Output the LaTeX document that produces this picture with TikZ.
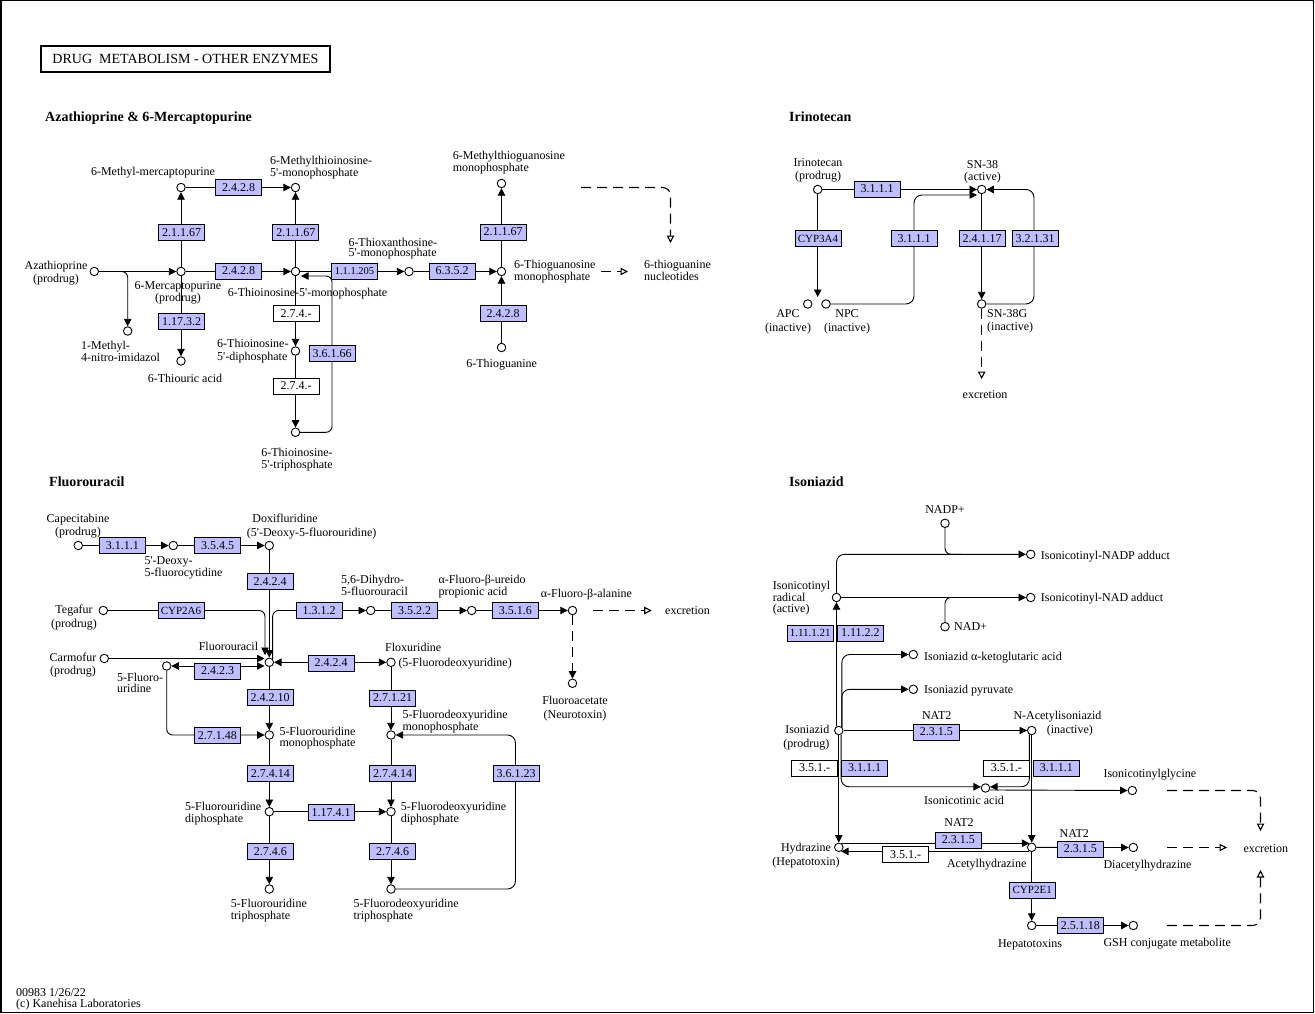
\documentclass[tikz,border=0pt]{standalone}
\usepackage{fontspec}
\setmainfont{Liberation Serif}
\newfontfamily\kf{Liberation Serif}
\usetikzlibrary{arrows.meta}
\definecolor{enzblue}{HTML}{BFBFFF}
\begin{document}
\begin{tikzpicture}[x=1pt,y=-1pt,
  cpd/.style={circle,draw,line width=0.9pt,fill=white,inner sep=0pt,minimum size=8.5pt},
  enz/.style={draw,line width=0.8pt,fill=enzblue,minimum width=46pt,minimum height=16pt,inner sep=0pt,font=\kf\fontsize{12}{12}\selectfont},
  wenz/.style={enz,fill=white},
  lc/.style={inner sep=0pt,anchor=base,align=center,font=\kf\fontsize{12}{#1}\selectfont},
  lc/.default=12,
  ll/.style={inner sep=0pt,anchor=base west,align=left,font=\kf\fontsize{12}{#1}\selectfont},
  ll/.default=12,
  lr/.style={inner sep=0pt,anchor=base east,align=right,font=\kf\fontsize{12}{#1}\selectfont},
  lr/.default=12,
  hd/.style={inner sep=0pt,anchor=base west,font=\kf\fontsize{14}{14}\selectfont\bfseries},
  ln/.style={line width=0.9pt},
  arr/.style={ln,-{Triangle[length=7.5pt,width=7.5pt]}},
  arrb/.style={ln,{Triangle[length=7.5pt,width=7.5pt]}-{Triangle[length=7.5pt,width=7.5pt]}},
  darr/.style={line width=1.1pt,dash pattern=on 10pt off 6pt,-{Triangle[open,length=7.5pt,width=7.5pt]}},
  dfarr/.style={line width=1.1pt,dash pattern=on 10pt off 6pt,-{Triangle[length=7.5pt,width=7.5pt]}},
  rc/.style={rounded corners=6pt},
]
\useasboundingbox (0,0) rectangle (1315,1014);
\draw[line width=1.5pt] (0.75,0.75) rectangle (1313.5,1012.5);

% ---------- title and headings ----------
\node[draw,line width=1.8pt,minimum width=289pt,minimum height=26pt,inner sep=0pt,font=\kf\fontsize{14}{14}\selectfont] (title) at (185.5,59) {DRUG\ \ METABOLISM - OTHER ENZYMES};
\node[hd] (h1) at (45,121.5) {Azathioprine \& 6-Mercaptopurine};
\node[hd] (h2) at (789,121.5) {Irinotecan};
\node[hd] (h3) at (49,486.5) {Fluorouracil};
\node[hd] (h4) at (789,486.5) {Isoniazid};
\node[ll=11] (foot) at (16,1007.5) {00983 1/26/22\\(c) Kanehisa Laboratories};

% ---------- compounds ----------
\node[cpd] (aza) at (94.3,271.5) {};
\node[cpd] (mp) at (181,271.5) {};
\node[cpd] (mmp) at (181,187.5) {};
\node[cpd] (mtimp) at (295.5,187.5) {};
\node[cpd] (timp) at (295.5,271.5) {};
\node[cpd] (txmp) at (409,271.5) {};
\node[cpd] (tgmp) at (501.5,271.5) {};
\node[cpd] (mtgmp) at (501.5,183.5) {};
\node[cpd] (tg) at (501.5,347.5) {};
\node[cpd] (mni) at (127.7,331) {};
\node[cpd] (tua) at (181,361) {};
\node[cpd] (tidp) at (295.5,351) {};
\node[cpd] (titp) at (295.5,432.3) {};
\node[cpd] (irino) at (817.7,189.5) {};
\node[cpd] (sn38) at (981.7,189.5) {};
\node[cpd] (apc) at (807.7,304) {};
\node[cpd] (npc) at (826,304) {};
\node[cpd] (sn38g) at (981.7,304) {};
\node[cpd] (cap) at (78.3,545.5) {};
\node[cpd] (dfcr) at (173.3,545.5) {};
\node[cpd] (dfur) at (269.3,545.5) {};
\node[cpd] (teg) at (103.3,610.5) {};
\node[cpd] (fu) at (269.3,662.3) {};
\node[cpd] (dhfu) at (370.7,610.5) {};
\node[cpd] (fupa) at (471.7,610.5) {};
\node[cpd] (fbal) at (572.5,610.5) {};
\node[cpd] (fac) at (572.5,683.3) {};
\node[cpd] (carm) at (104.3,658.5) {};
\node[cpd] (fur) at (166.7,666) {};
\node[cpd] (flox) at (391,662.3) {};
\node[cpd] (fump) at (269.3,735) {};
\node[cpd] (fdump) at (391,735) {};
\node[cpd] (fudp) at (269.3,811.7) {};
\node[cpd] (fdudp) at (391,811.7) {};
\node[cpd] (futp) at (269.3,889) {};
\node[cpd] (fdutp) at (391,889) {};
\node[cpd] (nadp) at (945,523.3) {};
\node[cpd] (nadpa) at (1030.7,554.3) {};
\node[cpd] (rad) at (836.5,597.5) {};
\node[cpd] (nada) at (1030.7,597.5) {};
\node[cpd] (nad) at (945,626.7) {};
\node[cpd] (akg) at (913.3,654.5) {};
\node[cpd] (pyr) at (913.3,689.3) {};
\node[cpd] (inh) at (838.8,730.5) {};
\node[cpd] (nai) at (1031.7,730.5) {};
\node[cpd] (ina) at (985.5,788) {};
\node[cpd] (icg) at (1132.3,790.5) {};
\node[cpd] (hyd) at (838.8,847.3) {};
\node[cpd] (ach) at (1031.7,847.3) {};
\node[cpd] (dah) at (1133.3,847.5) {};
\node[cpd] (htx) at (1031.7,925.5) {};
\node[cpd] (gsh) at (1133.3,925.5) {};

% ---------- free ends ----------
\coordinate (timpin) at (301,276);
\coordinate (apcnpc) at (817.7,297);
\coordinate (sn38in) at (977,195);
\coordinate (fuT1) at (265,655);
\coordinate (fuL1) at (264.5,658.5);
\coordinate (fuL2) at (264.5,666);
\coordinate (nadpj) at (962,554.3);
\coordinate (nadj) at (962,597.5);
\coordinate (x0s) at (581,187.5);
\coordinate (x0e) at (670.5,243);
\coordinate (x1s) at (601,271.5);
\coordinate (x1e) at (628,271.5);
\coordinate (x2s) at (593.3,610.5);
\coordinate (x2e) at (651.7,610.5);
\coordinate (x3) at (981.7,379);
\coordinate (x4s) at (1167,790.5);
\coordinate (x4e) at (1260.5,831);
\coordinate (x5s) at (1167,847.5);
\coordinate (x5e) at (1227,847.5);
\coordinate (x6s) at (1167,925.5);
\coordinate (x6e) at (1260.5,870);

% ---------- connectors ----------
\draw[arr] (aza) -- (mp);
\draw[arr,rc] (aza) -| (mni);
\draw[arr] (mp) -- (mmp);
\draw[arr] (mmp) -- (mtimp);
\draw[arr] (mp) -- (timp);
\draw[arr] (timp) -- (mtimp);
\draw[arr] (mp) -- (tua);
\draw[arr] (timp) -- (txmp);
\draw[arr] (txmp) -- (tgmp);
\draw[arr] (tgmp) -- (mtgmp);
\draw[arr] (tg) -- (tgmp);
\draw[arr] (timp) -- (tidp);
\draw[arr] (tidp) -- (titp);
\draw[arr,rc] (titp) -| (332,276) -- (timpin);
\draw[darr,rounded corners=8pt] (x0s) -| (x0e);
\draw[darr] (x1s) -- (x1e);

\draw[arr] (irino) -- (sn38);
\draw[arr] (irino) -- (apcnpc);
\draw[arr,rounded corners=8pt] (npc) -| (914,195) -- (sn38in);
\draw[arr] (sn38) -- (sn38g);
\draw[arr,rounded corners=8pt] (sn38g) -| (1034,189.5) -- (sn38);
\draw[darr] (sn38g) -- (x3);

\draw[arr] (cap) -- (dfcr);
\draw[arr] (dfcr) -- (dfur);
\draw[arr] (dfur) -- (fu);
\draw[arr,rc] (teg) -| (fuT1);
\draw[arr,rc] (fu.45) |- (dhfu);
\draw[arr] (dhfu) -- (fupa);
\draw[arr] (fupa) -- (fbal);
\draw[dfarr] (fbal) -- (fac);
\draw[darr] (x2s) -- (x2e);
\draw[arr] (carm) -- (fuL1);
\draw[arrb] (fur) -- (fuL2);
\draw[arrb] (fu) -- (flox);
\draw[arr] (fu) -- (fump);
\draw[arr,rc] (fur) |- (fump);
\draw[arr] (fump) -- (fudp);
\draw[arr] (fudp) -- (futp);
\draw[arr] (fudp) -- (fdudp);
\draw[arr] (flox) -- (fdump);
\draw[arr] (fdump) -- (fdudp);
\draw[arr] (fdudp) -- (fdutp);
\draw[arr,rounded corners=8pt] (fdutp) -| (515.5,735) -- (fdump);

\draw[arr,rounded corners=8pt] (rad) |- (nadpa);
\draw[ln,rc] (nadp) |- (nadpj);
\draw[arr] (rad) -- (nada);
\draw[ln,rc] (nad) |- (nadj);
\draw[arr] (inh.120) -- (rad);
\draw[arr,rounded corners=8pt] (inh.50) |- (akg);
\draw[arr,rounded corners=8pt] (inh.50) |- (pyr);
\draw[arr] (inh) -- (nai);
\draw[arr] (inh) -- (hyd);
\draw[arr,rounded corners=8pt] (inh.-60) |- (ina.165);
\draw[arr,rounded corners=8pt] (nai.-120) |- (ina.15);
\draw[arr] (ina.-25) -- (icg);
\draw[arr] (nai) -- (ach);
\draw[arr] (hyd.60) -- (ach.120);
\draw[arr] (ach.-120) -- (hyd.-60);
\draw[arr] (ach) -- (dah);
\draw[arr] (ach) -- (htx);
\draw[arr] (htx) -- (gsh);
\draw[darr,rounded corners=8pt] (x4s) -| (x4e);
\draw[darr] (x5s) -- (x5e);
\draw[darr,rounded corners=8pt] (x6s) -| (x6e);

% ---------- enzymes ----------
\node[enz] (e1) at (238.5,187.2) {2.4.2.8};
\node[enz] (e2) at (181.7,232.8) {2.1.1.67};
\node[enz] (e3) at (295.8,232.8) {2.1.1.67};
\node[enz] (e4) at (238.5,271) {2.4.2.8};
\node[enz,font=\kf\fontsize{10.5}{12}\selectfont] (e5) at (354.5,271) {1.1.1.205};
\node[enz] (e6) at (452,271) {6.3.5.2};
\node[enz] (e7) at (503,232) {2.1.1.67};
\node[enz] (e8) at (503,313.5) {2.4.2.8};
\node[enz] (e9) at (181.7,321.3) {1.17.3.2};
\node[wenz] (e10) at (296,313.7) {2.7.4.-};
\node[wenz] (e11) at (296,386) {2.7.4.-};
\node[enz] (e12) at (332,353.3) {3.6.1.66};

\node[enz] (e13) at (877,189) {3.1.1.1};
\node[enz,font=\kf\fontsize{11}{12}\selectfont] (e14) at (818,238.5) {CYP3A4};
\node[enz] (e15) at (914,238.5) {3.1.1.1};
\node[enz] (e16) at (982,238.5) {2.4.1.17};
\node[enz] (e17) at (1035,238.5) {3.2.1.31};

\node[enz] (e18) at (122.3,545.5) {3.1.1.1};
\node[enz] (e19) at (217.5,545.5) {3.5.4.5};
\node[enz] (e20) at (270,581.7) {2.4.2.4};
\node[enz,font=\kf\fontsize{11}{12}\selectfont] (e21) at (181,610.8) {CYP2A6};
\node[enz] (e22) at (319,610.5) {1.3.1.2};
\node[enz] (e23) at (414.5,610.5) {3.5.2.2};
\node[enz] (e24) at (515.3,610.5) {3.5.1.6};
\node[enz] (e25) at (217.5,671) {2.4.2.3};
\node[enz] (e26) at (331,663) {2.4.2.4};
\node[enz] (e27) at (270,697.5) {2.4.2.10};
\node[enz] (e28) at (392.5,698) {2.7.1.21};
\node[enz] (e29) at (217.3,735.8) {2.7.1.48};
\node[enz] (e30) at (270.3,773.3) {2.7.4.14};
\node[enz] (e31) at (392.5,773.3) {2.7.4.14};
\node[enz] (e32) at (516.2,773.3) {3.6.1.23};
\node[enz] (e33) at (331.2,812.5) {1.17.4.1};
\node[enz] (e34) at (270.3,851.2) {2.7.4.6};
\node[enz] (e35) at (392.5,851.2) {2.7.4.6};

\node[enz,font=\kf\fontsize{11}{12}\selectfont] (e36) at (810.3,633) {1.11.1.21};
\node[enz] (e37) at (860.3,633) {1.11.2.2};
\node[enz] (e38) at (936.3,732) {2.3.1.5};
\node[wenz] (e39) at (814.5,768) {3.5.1.-};
\node[enz] (e40) at (864.5,768) {3.1.1.1};
\node[wenz] (e41) at (1006.3,768) {3.5.1.-};
\node[enz] (e42) at (1056.3,768) {3.1.1.1};
\node[enz] (e43) at (958.3,840) {2.3.1.5};
\node[wenz] (e44) at (905.5,854.7) {3.5.1.-};
\node[enz] (e45) at (1080.3,849) {2.3.1.5};
\node[enz,font=\kf\fontsize{11}{12}\selectfont] (e46) at (1032.2,890) {CYP2E1};
\node[enz] (e47) at (1080.3,925.8) {2.5.1.18};

% ---------- labels ----------
\node[lc=13] (t1) at (56,282.5) {Azathioprine\\(prodrug)};
\node[lc=12.6] (t2) at (178,301.8) {6-Mercaptopurine\\(prodrug)};
\node[lc] (t3) at (153,175.2) {6-Methyl-mercaptopurine};
\node[ll=10] (t4) at (270,176.2) {6-Methylthioinosine-\\5'-monophosphate};
\node[lc] (t5) at (307.5,296.8) {6-Thioinosine-5'-monophosphate};
\node[ll=10] (t6) at (348.3,256.8) {6-Thioxanthosine-\\5'-monophosphate};
\node[ll=10] (t7) at (452.7,171.8) {6-Methylthioguanosine\\monophosphate};
\node[ll=10] (t8) at (514,280.8) {6-Thioguanosine\\monophosphate};
\node[ll=10] (t9) at (644,280.5) {6-thioguanine\\nucleotides};
\node[lc] (t10) at (501.7,367.5) {6-Thioguanine};
\node[ll=12.3] (t11) at (81,361.8) {1-Methyl-\\4-nitro-imidazol};
\node[lc] (t12) at (185,382.5) {6-Thiouric acid};
\node[ll=12.7] (t13) at (217,360.2) {6-Thioinosine-\\5'-diphosphate};
\node[lc=11.7] (t14) at (297,468.5) {6-Thioinosine-\\5'-triphosphate};

\node[lc=12.7] (t15) at (818,179.5) {Irinotecan\\(prodrug)};
\node[lc=11.7] (t16) at (982.5,180.2) {SN-38\\(active)};
\node[lc=14.3] (t17) at (788,331.8) {APC\\(inactive)};
\node[lc=14.3] (t18) at (847,331.8) {NPC\\(inactive)};
\node[ll=13.3] (t19) at (987,330.8) {SN-38G\\(inactive)};
\node[lc] (t20) at (985,398.5) {excretion};

\node[lc=13.3] (t21) at (78,535.8) {Capecitabine\\(prodrug)};
\node[ll=10.4] (t22) at (144.3,576.2) {5'-Deoxy-\\5-fluorocytidine};
\node[lc] (t23) at (285,522.5) {Doxifluridine};
\node[ll] (t24) at (246.7,536.5) {(5'-Deoxy-5-fluorouridine)};
\node[lc=14.3] (t25) at (74,627.8) {Tegafur\\(prodrug)};
\node[lc=13] (t26) at (73,674.2) {Carmofur\\(prodrug)};
\node[anchor=base east,inner sep=0pt,font=\kf\fontsize{12}{12}\selectfont] (t27) at (258.3,650.2) {Fluorouracil};
\node[ll=10.5] (t28) at (117,692) {5-Fluoro-\\uridine};
\node[ll=10.6] (t29) at (341,595.8) {5,6-Dihydro-\\5-fluorouracil};
\node[ll=10.6] (t30) at (438.3,595.8) {α-Fluoro-β-ureido\\propionic acid};
\node[ll] (t31) at (540.7,597.8) {α-Fluoro-β-alanine};
\node[ll] (t32) at (665,614.5) {excretion};
\node[lc=14.3] (t33) at (575,718.5) {Fluoroacetate\\(Neurotoxin)};
\node[ll] (t34) at (385,651.8) {Floxuridine};
\node[ll] (t35) at (398.3,666.8) {(5-Fluorodeoxyuridine)};
\node[ll=10.3] (t36) at (402.3,730.5) {5-Fluorodeoxyuridine\\monophosphate};
\node[ll=11] (t37) at (279.3,746.2) {5-Fluorouridine\\monophosphate};
\node[ll=11.7] (t38) at (185,822.5) {5-Fluorouridine\\diphosphate};
\node[ll=11.7] (t39) at (400.7,822.5) {5-Fluorodeoxyuridine\\diphosphate};
\node[ll=11.7] (t40) at (230.7,919.5) {5-Fluorouridine\\triphosphate};
\node[ll=11.7] (t41) at (353.3,919.5) {5-Fluorodeoxyuridine\\triphosphate};

\node[lc] (t42) at (945,513.5) {NADP+};
\node[ll] (t43) at (1040.7,559.2) {Isonicotinyl-NADP adduct};
\node[ll] (t44) at (1040.7,601.5) {Isonicotinyl-NAD adduct};
\node[ll] (t45) at (954,630.2) {NAD+};
\node[ll=11.5] (t46) at (772.7,612.5) {Isonicotinyl\\radical\\(active)};
\node[ll] (t47) at (924,660.2) {Isoniazid α-ketoglutaric acid};
\node[ll] (t48) at (924,693.5) {Isoniazid pyruvate};
\node[lr=14] (t49) at (829.5,747.5) {Isoniazid\\(prodrug)};
\node[lc] (t50) at (936.7,719.2) {NAT2};
\node[ll] (t51) at (1013.3,719.2) {N-Acetylisoniazid};
\node[ll] (t52) at (1046.7,733.5) {(inactive)};
\node[lc] (t53) at (964,804.5) {Isonicotinic acid};
\node[ll] (t54) at (1103.3,777.8) {Isonicotinylglycine};
\node[lc] (t55) at (959,826.8) {NAT2};
\node[lc=14] (t56) at (806,865.8) {Hydrazine\\(Hepatotoxin)};
\node[lc] (t57) at (986.7,867.5) {Acetylhydrazine};
\node[lc] (t58) at (1074.3,837.8) {NAT2};
\node[ll] (t59) at (1103.3,868.5) {Diacetylhydrazine};
\node[ll] (t60) at (1243.3,852.5) {excretion};
\node[lc] (t61) at (1030,947.5) {Hepatotoxins};
\node[ll] (t62) at (1103.3,946.8) {GSH conjugate metabolite};
\end{tikzpicture}
\end{document}
